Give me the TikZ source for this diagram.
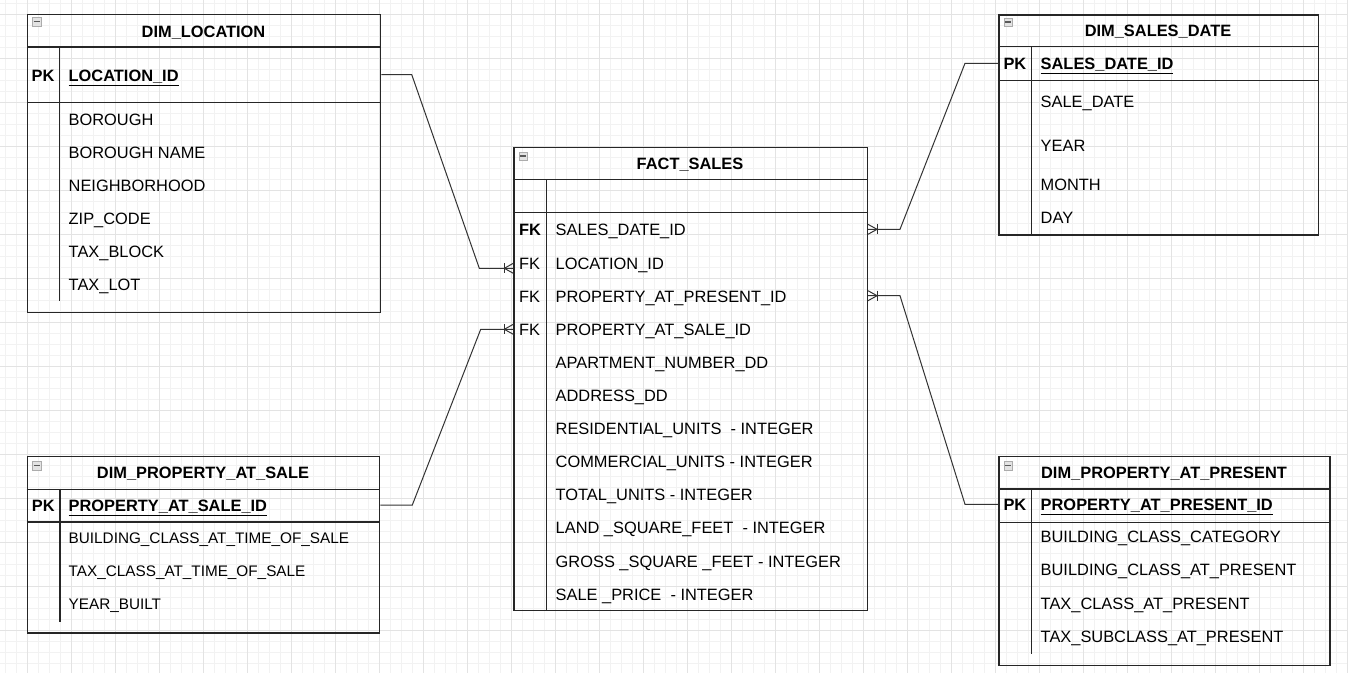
\documentclass[tikz,border=0pt]{standalone}
\usepackage{fontspec}
\setmainfont{Liberation Sans}
\tikzset{
  gridminor/.style={draw=gray!10, line width=0.8pt},
  gridmajor/.style={draw=gray!22, line width=0.8pt},
  tbl/.style={draw=black!85, line width=1.3pt, inner sep=0pt, anchor=north west},
  sepline/.style={draw=black!85, line width=1.3pt},
  hdr/.style={font=\fontsize{16.4}{19}\selectfont\bfseries, inner sep=0pt, text height=11.75pt, text depth=0pt},
  fld/.style={font=\fontsize{16.4}{19}\selectfont, anchor=west, inner sep=0pt, text height=11.75pt, text depth=0pt},
  fldsm/.style={font=\fontsize{15.3}{18}\selectfont, anchor=west, inner sep=0pt, text height=10.95pt, text depth=0pt},
  keyfld/.style={fld, font=\fontsize{16.4}{19}\selectfont\bfseries},
  conn/.style={draw=black!80, line width=1pt},
  iconbox/.style={draw=gray!65, fill=gray!22, line width=0.7pt, minimum width=8.5pt, minimum height=8.5pt, inner sep=0pt, anchor=north west},
}
\newcommand\tblicon[2]{%
  \node[iconbox] (#1) at (#2) {};
  \draw[black!65, line width=1.3pt] ([xshift=1.6pt]#1.west) -- ([xshift=-1.6pt]#1.east);}
\newcommand\erfoot[2]{%
  \draw[conn] ([xshift=#2pt]#1) ++(0,-5) -- ++(0,10);
  \draw[conn] ([xshift=#2pt]#1) -- ([yshift=5pt]#1);
  \draw[conn] ([xshift=#2pt]#1) -- ([yshift=-5pt]#1);}
\begin{document}
\begin{tikzpicture}[x=1pt,y=-1pt]
\useasboundingbox (0,0) rectangle (1348,673);
\fill[white] (0,0) rectangle (1348,673);
% grid
\foreach \i in {0,...,122} \draw[gridminor] ({5.3+11*\i},0) -- ({5.3+11*\i},673);
\foreach \i in {0,...,60} \draw[gridminor] (0,{3.3+11*\i}) -- (1348,{3.3+11*\i});
\foreach \i in {0,...,30} \draw[gridmajor] ({27.3+44*\i},0) -- ({27.3+44*\i},673);
\foreach \i in {0,...,14} \draw[gridmajor] (0,{14.3+44*\i}) -- (1348,{14.3+44*\i});

% ---------------- DIM_LOCATION
\node[tbl, minimum width=353pt, minimum height=298pt] (loc) at (27,14) {};
\draw[sepline] (loc.west |- 0,47) -- (loc.east |- 0,47);
\draw[sepline] (loc.west |- 0,102.3) -- (loc.east |- 0,102.3);
\draw[sepline] (59.5,47) -- (59.5,301);
\tblicon{locicon}{32,17}
\node[hdr] (lochdr) at (203.5,31.5) {DIM\_LOCATION};
\node[keyfld] (locpk) at (31.5,76) {PK};
\node[keyfld] (lockey) at (68.5,76) {\underline{LOCATION\_ID}};
\node[fld] (locf1) at (68.5,119.5) {BOROUGH};
\node[fld] (locf2) at (68.5,153) {BOROUGH NAME};
\node[fld] (locf3) at (68.5,186) {NEIGHBORHOOD};
\node[fld] (locf4) at (68.5,219) {ZIP\_CODE};
\node[fld] (locf5) at (68.5,252) {TAX\_BLOCK};
\node[fld] (locf6) at (68.5,285) {TAX\_LOT};

% ---------------- FACT_SALES
\node[tbl, minimum width=353.4pt, minimum height=463.3pt] (fact) at (513.3,146.7) {};
\draw[sepline] (fact.west |- 0,179.3) -- (fact.east |- 0,179.3);
\draw[sepline] (fact.west |- 0,212.7) -- (fact.east |- 0,212.7);
\draw[sepline] (546.7,179.3) -- (546.7,610);
\tblicon{facticon}{518.5,151.5}
\node[hdr] (facthdr) at (690,164) {FACT\_SALES};
\node[keyfld] (fk1) at (519,230) {FK};
\node[fld] (fk2) at (519,263.5) {FK};
\node[fld] (fk3) at (519,297) {FK};
\node[fld] (fk4) at (519,330) {FK};
\node[fld] (ff1) at (555.5,230) {SALES\_DATE\_ID};
\node[fld] (ff2) at (555.5,263.5) {LOCATION\_ID};
\node[fld] (ff3) at (555.5,297) {PROPERTY\_AT\_PRESENT\_ID};
\node[fld] (ff4) at (555.5,330) {PROPERTY\_AT\_SALE\_ID};
\node[fld] (ff5) at (555.5,363) {APARTMENT\_NUMBER\_DD};
\node[fld] (ff6) at (555.5,396) {ADDRESS\_DD};
\node[fld] (ff7) at (555.5,429) {RESIDENTIAL\_UNITS \ - INTEGER};
\node[fld] (ff8) at (555.5,462) {COMMERCIAL\_UNITS - INTEGER};
\node[fld] (ff9) at (555.5,495) {TOTAL\_UNITS - INTEGER};
\node[fld] (ff10) at (555.5,528) {LAND \_SQUARE\_FEET \ - INTEGER};
\node[fld] (ff11) at (555.5,562) {GROSS \_SQUARE \_FEET - INTEGER};
\node[fld] (ff12) at (555.5,595) {SALE \_PRICE \ - INTEGER};

% ---------------- DIM_SALES_DATE
\node[tbl, minimum width=319.7pt, minimum height=220pt] (sd) at (998.3,14.3) {};
\draw[sepline] (sd.west |- 0,46.7) -- (sd.east |- 0,46.7);
\draw[sepline] (sd.west |- 0,80.7) -- (sd.east |- 0,80.7);
\draw[sepline] (1031.7,46.7) -- (1031.7,234.3);
\tblicon{sdicon}{1003.5,17.5}
\node[hdr] (sdhdr) at (1158,30.5) {DIM\_SALES\_DATE};
\node[keyfld] (sdpk) at (1003.3,63.5) {PK};
\node[keyfld] (sdkey) at (1040.5,63.5) {\underline{SALES\_DATE\_ID}};
\node[fld] (sdf1) at (1040.5,101.7) {SALE\_DATE};
\node[fld] (sdf2) at (1040.5,146) {YEAR};
\node[fld] (sdf3) at (1040.5,185) {MONTH};
\node[fld] (sdf4) at (1040.5,217.7) {DAY};

% ---------------- DIM_PROPERTY_AT_SALE
\node[tbl, minimum width=352.3pt, minimum height=176.6pt] (pas) at (26.7,455.7) {};
\draw[sepline] (pas.west |- 0,489.3) -- (pas.east |- 0,489.3);
\draw[sepline] (pas.west |- 0,522) -- (pas.east |- 0,522);
\draw[sepline] (60,489.3) -- (60,621.7);
\tblicon{pasicon}{32,461}
\node[hdr] (pashdr) at (203,472.5) {DIM\_PROPERTY\_AT\_SALE};
\node[keyfld] (paspk) at (31.7,505.5) {PK};
\node[keyfld] (paskey) at (68.5,505.5) {\underline{PROPERTY\_AT\_SALE\_ID}};
\node[fldsm] (pasf1) at (68.5,537.7) {BUILDING\_CLASS\_AT\_TIME\_OF\_SALE};
\node[fldsm] (pasf2) at (68.5,570.7) {TAX\_CLASS\_AT\_TIME\_OF\_SALE};
\node[fldsm] (pasf3) at (68.5,604) {YEAR\_BUILT};

% ---------------- DIM_PROPERTY_AT_PRESENT
\node[tbl, minimum width=331pt, minimum height=209pt] (pap) at (998.3,456) {};
\draw[sepline] (pap.west |- 0,489) -- (pap.east |- 0,489);
\draw[sepline] (pap.west |- 0,522.3) -- (pap.east |- 0,522.3);
\draw[sepline] (1031.7,489) -- (1031.7,654.3);
\tblicon{papicon}{1003.5,461}
\node[hdr] (paphdr) at (1164,472.5) {DIM\_PROPERTY\_AT\_PRESENT};
\node[keyfld] (pappk) at (1003.3,505) {PK};
\node[keyfld] (papkey) at (1040.5,505) {\underline{PROPERTY\_AT\_PRESENT\_ID}};
\node[fld] (papf1) at (1040.5,536.7) {BUILDING\_CLASS\_CATEGORY};
\node[fld] (papf2) at (1040.5,570) {BUILDING\_CLASS\_AT\_PRESENT};
\node[fld] (papf3) at (1040.5,603.7) {TAX\_CLASS\_AT\_PRESENT};
\node[fld] (papf4) at (1040.5,637) {TAX\_SUBCLASS\_AT\_PRESENT};

% ---------------- connectors
\coordinate (c1s) at (loc.east |- 0,74.5);
\coordinate (c1a) at (411.7,74.5);
\coordinate (c1b) at (479.3,268.3);
\coordinate (c1e) at (fact.west |- c1b);
\draw[conn] (c1s) -- (c1a) -- (c1b) -- (c1e);
\erfoot{c1e}{-9}

\coordinate (c2s) at (pas.east |- 0,505);
\coordinate (c2a) at (412.3,505);
\coordinate (c2b) at (480.7,329.3);
\coordinate (c2e) at (fact.west |- c2b);
\draw[conn] (c2s) -- (c2a) -- (c2b) -- (c2e);
\erfoot{c2e}{-9}

\coordinate (c3s) at (sd.west |- 0,63.3);
\coordinate (c3a) at (965,63.3);
\coordinate (c3b) at (900,229.3);
\coordinate (c3e) at (fact.east |- c3b);
\draw[conn] (c3s) -- (c3a) -- (c3b) -- (c3e);
\erfoot{c3e}{9}

\coordinate (c4s) at (pap.west |- 0,504.3);
\coordinate (c4a) at (965,504.3);
\coordinate (c4b) at (900,295.7);
\coordinate (c4e) at (fact.east |- c4b);
\draw[conn] (c4s) -- (c4a) -- (c4b) -- (c4e);
\erfoot{c4e}{9}
\end{tikzpicture}
\end{document}
